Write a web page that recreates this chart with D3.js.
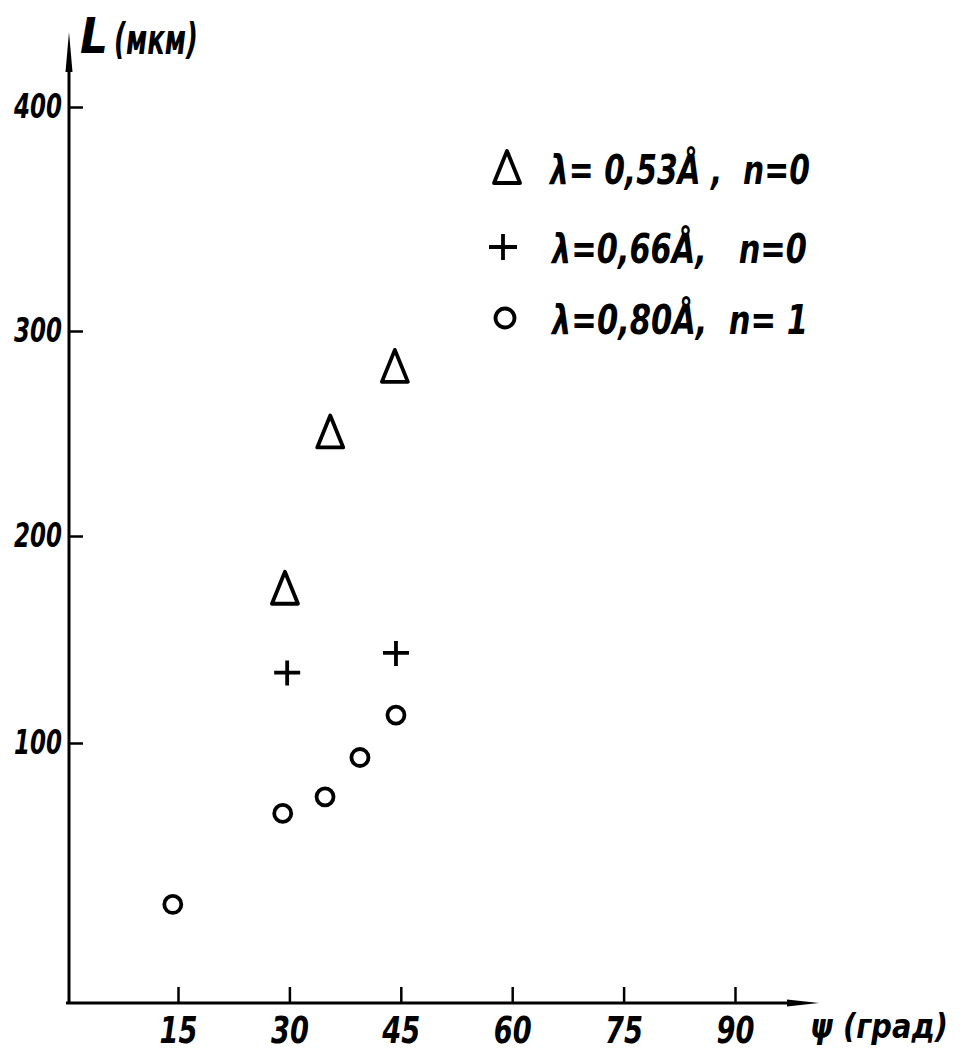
<!DOCTYPE html>
<html>
<head>
<meta charset="utf-8">
<script src="https://cdn.jsdelivr.net/npm/d3@7"></script>
<style>
body { margin: 0; background: #fff; }
text { font-family: "DejaVu Sans", sans-serif; font-weight: bold; font-style: italic; fill: #000; white-space: pre; }
</style>
</head>
<body>
<svg id="chart" width="962" height="1061"></svg>
<script>
// values (psi in degrees, L in microns)
let triPsi = [29.4, 35.5, 44.2],
	triL = [175, 251, 283];
let plusPsi = [29.7, 44.35],
	plusL = [134, 143.5];
let circPsi = [14.3, 29.1, 34.8, 39.5, 44.35],
	circL = [22, 66, 74, 93, 113.5];

let xTicks = [15, 30, 45, 60, 75, 90],
	yTicks = [100, 200, 300, 400];

let legendLabels = ["λ= 0,53Å ,  n=0", "λ=0,66Å,   n=0", "λ=0,80Å,  n= 1"];

let svg = d3.select("svg#chart");

// hand drawn axes: the y divisions are not quite even, so the scale follows them
let x = d3.scaleLinear().domain([15, 90]).range([178, 735]);
let y = d3.scaleLinear().domain([100, 200, 300, 400]).range([743, 536, 331, 107]);

let x0 = 69, y0 = 1003;

// squeeze a text horizontally to a given width (hand lettering is narrow)
function squeeze(sel, w) {
	sel.each(function() {
		let t = d3.select(this),
			ax = +t.attr("x") || 0,
			ay = +t.attr("y") || 0,
			anchor = t.attr("text-anchor") || "start",
			k = w / this.getComputedTextLength(),
			ox = anchor === "end" ? ax : anchor === "middle" ? ax : ax;
		t.attr("transform", (t.attr("transform") || "") + " translate(" + ox + "," + ay + ") scale(" + k + ",1) translate(" + (-ox) + "," + (-ay) + ")");
	});
}

// y axis
let yAxis = svg.append("g")
	.attr("transform", "translate(" + x0 + ",0)")
	.call(d3.axisLeft(y).tickValues(yTicks).tickSize(-14).tickPadding(7).tickFormat(d3.format("d")));
yAxis.select(".domain").remove();
yAxis.selectAll(".tick line").attr("stroke", "#000").attr("stroke-width", 2.5);
yAxis.selectAll(".tick text")
	.attr("font-size", 34)
	.style("font-family", "DejaVu Sans")
	.style("font-weight", "bold")
	.style("font-style", "italic")
	.call(squeeze, 48);

// x axis
let xAxis = svg.append("g")
	.attr("transform", "translate(0," + y0 + ")")
	.call(d3.axisBottom(x).tickValues(xTicks).tickSize(-16).tickPadding(13));
xAxis.select(".domain").remove();
xAxis.selectAll(".tick line").attr("stroke", "#000").attr("stroke-width", 2.5);
xAxis.selectAll(".tick text")
	.attr("font-size", 38)
	.style("font-family", "DejaVu Sans")
	.style("font-weight", "bold")
	.style("font-style", "italic")
	.call(squeeze, 38);

// axis lines with arrows
svg.append("line")
	.attr("x1", x0).attr("y1", y0 + 1).attr("x2", x0).attr("y2", 60)
	.attr("stroke", "#000").attr("stroke-width", 3);
svg.append("path")
	.attr("d", "M" + x0 + ",32L" + (x0 - 3.5) + ",72L" + (x0 + 3.5) + ",72Z")
	.attr("fill", "#000");
svg.append("line")
	.attr("x1", 66).attr("y1", y0).attr("x2", 795).attr("y2", y0)
	.attr("stroke", "#000").attr("stroke-width", 2.8);
svg.append("path")
	.attr("d", "M819," + y0 + "L787," + (y0 - 3.5) + "L787," + (y0 + 3.5) + "Z")
	.attr("fill", "#000");

// axis titles
svg.append("text")
	.attr("x", 80).attr("y", 53)
	.attr("font-size", 50)
	.text("L")
	.call(squeeze, 28);
svg.append("text")
	.attr("x", 114).attr("y", 54)
	.attr("font-size", 42)
	.text("(мкм)")
	.call(squeeze, 84);
svg.append("text")
	.attr("x", 810).attr("y", 1038)
	.attr("font-size", 34)
	.text("ψ (град)")
	.call(squeeze, 138);

// markers
let triPath = "M0,-16L13,16L-13,16Z";

let pts = svg.append("g")
	.attr("fill", "none")
	.attr("stroke", "#000")
	.attr("stroke-width", 3.8)
	.attr("stroke-linejoin", "round");

pts.selectAll("path.tri")
	.data(triPsi)
	.enter().append("path")
	.attr("class", "tri")
	.attr("d", triPath)
	.attr("transform", function(d, i) { return "translate(" + x(d) + "," + y(triL[i]) + ")"; });

pts.selectAll("path.plus")
	.data(plusPsi)
	.enter().append("path")
	.attr("class", "plus")
	.attr("d", "M-13,0H13M0,-12V13")
	.attr("transform", function(d, i) { return "translate(" + x(d) + "," + y(plusL[i]) + ")"; });

pts.selectAll("circle")
	.data(circPsi)
	.enter().append("circle")
	.attr("cx", function(d) { return x(d); })
	.attr("cy", function(d, i) { return y(circL[i]); })
	.attr("r", 8.5);

// legend
let legend = svg.append("g");
let legRows = [
	{ sym: "tri", cx: 507, cy: 167, tx: 550, ty: 184, len: 260 },
	{ sym: "plus", cx: 503, cy: 247, tx: 552, ty: 263, len: 255 },
	{ sym: "circ", cx: 505, cy: 318, tx: 552, ty: 334, len: 256 }
];

legRows.forEach(function(r, i) {
	if (r.sym === "tri") {
		legend.append("path").attr("d", triPath)
			.attr("transform", "translate(" + r.cx + "," + r.cy + ")")
			.attr("fill", "none").attr("stroke", "#000").attr("stroke-width", 3.8).attr("stroke-linejoin", "round");
	} else if (r.sym === "plus") {
		legend.append("path").attr("d", "M-14,0H14M0,-13V13")
			.attr("transform", "translate(" + r.cx + "," + r.cy + ")")
			.attr("fill", "none").attr("stroke", "#000").attr("stroke-width", 3.8);
	} else {
		legend.append("circle").attr("cx", r.cx).attr("cy", r.cy).attr("r", 9.5)
			.attr("fill", "none").attr("stroke", "#000").attr("stroke-width", 3.8);
	}
	legend.append("text")
		.attr("x", r.tx).attr("y", r.ty)
		.attr("font-size", 41)
		.text(legendLabels[i])
		.call(squeeze, r.len);
});
</script>
</body>
</html>
